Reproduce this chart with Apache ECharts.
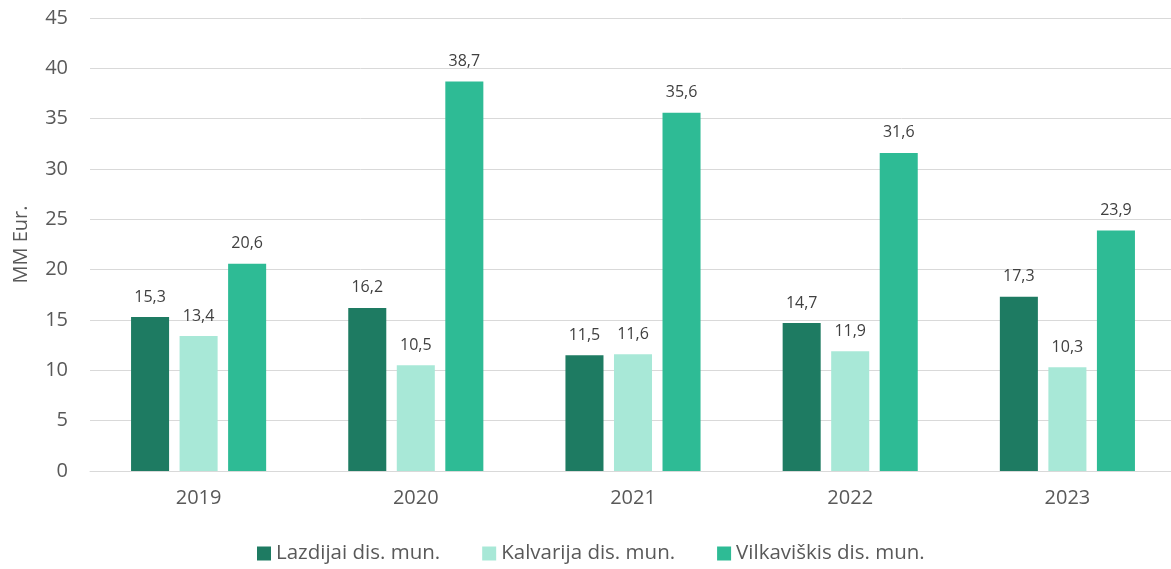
<!DOCTYPE html>
<html>
<head>
<meta charset="utf-8">
<script src="https://cdn.jsdelivr.net/npm/echarts@6/dist/echarts.min.js"></script>
<style>
	html, body { margin: 0; padding: 0; background: #fff; }
	#main { width: 1171px; height: 569px; }
</style>
</head>
<body>
<div id="main"></div>
<script>
var years = ['2019', '2020', '2021', '2022', '2023'];
var lazdijai = [15.3, 16.2, 11.5, 14.7, 17.3];
var kalvarija = [13.4, 10.5, 11.6, 11.9, 10.3];
var vilkaviskis = [20.6, 38.7, 35.6, 31.6, 23.9];
var seriesNames = ['Lazdijai dis. mun.', 'Kalvarija dis. mun.', 'Vilkaviškis dis. mun.'];
var colors = ['#1e7b62', '#a8e8d7', '#2ebb95'];

var font = '"Open Sans", sans-serif';
var textColor = '#595959';

var chart = echarts.init(document.getElementById('main'));

//柱子标签
function barLabel() {
	return {
		show: true,
		position: 'top',
		distance: 12,
		fontFamily: font,
		fontSize: 16,
		color: '#404040',
		formatter: function(p) {
			return String(p.value).replace('.', ',');
		}
	};
}

function makeSeries(name, data, color) {
	return {
		name: name,
		type: 'bar',
		data: data,
		barGap: '27.6%',
		barCategoryGap: '37.8%',
		itemStyle: { color: color },
		label: barLabel()
	};
}

chart.setOption({
	animation: false,
	color: colors,
	grid: { left: 90, width: 1086, top: 18, bottom: 98, containLabel: false, outerBoundsMode: 'none' },
	legend: {
		top: 538,
		left: 252,
		itemWidth: 14,
		itemHeight: 14,
		itemGap: 42,
		icon: 'rect',
		textStyle: { fontFamily: font, fontSize: 20.5, color: textColor },
		data: seriesNames
	},
	xAxis: {
		type: 'category',
		data: years,
		axisTick: { show: false },
		axisLine: { lineStyle: { color: '#d9d9d9', width: 1 } },
		axisLabel: { fontFamily: font, fontSize: 20, color: textColor, margin: 17 }
	},
	yAxis: {
		type: 'value',
		min: 0,
		max: 45,
		interval: 5,
		name: 'MM Eur.',
		nameLocation: 'middle',
		nameGap: 59,
		nameTextStyle: { fontFamily: font, fontSize: 20, color: textColor },
		axisLine: { show: false },
		axisTick: { show: false },
		axisLabel: { fontFamily: font, fontSize: 20, color: textColor, margin: 22 },
		splitLine: { lineStyle: { color: '#d9d9d9', width: 1 } }
	},
	series: [
		makeSeries(seriesNames[0], lazdijai, colors[0]),
		makeSeries(seriesNames[1], kalvarija, colors[1]),
		makeSeries(seriesNames[2], vilkaviskis, colors[2])
	]
});
</script>
</body>
</html>
